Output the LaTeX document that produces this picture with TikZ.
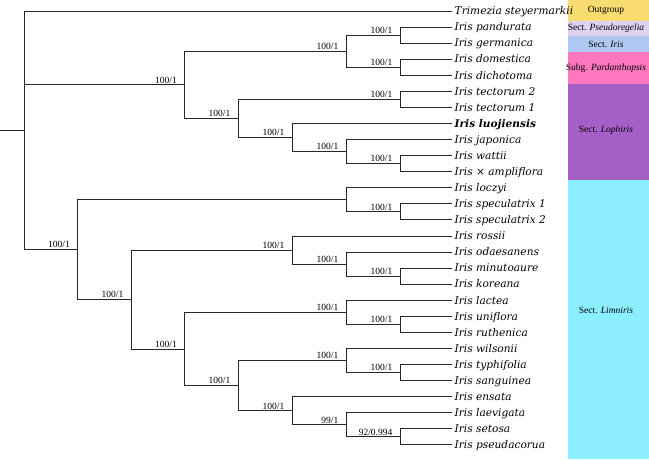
\documentclass[tikz,border=0pt]{standalone}
\usepackage{fontspec}
\setmainfont{Liberation Serif}
\newfontfamily\taxonfont{DejaVu Serif}
\usepackage{tikz}
\usetikzlibrary{positioning}
\definecolor{outgroupcol}{RGB}{248,220,112}
\definecolor{pseudocol}{RGB}{222,210,242}
\definecolor{iriscol}{RGB}{174,200,242}
\definecolor{pardcol}{RGB}{255,120,190}
\definecolor{lophcol}{RGB}{165,96,200}
\definecolor{limncol}{RGB}{140,239,255}
\tikzstyle{taxon}=[font=\taxonfont\itshape\fontsize{10.6}{12}\selectfont, anchor=west, inner xsep=2.5pt, inner ysep=0pt, text height=7.5pt, text depth=0pt]
\tikzstyle{branch}=[draw, line width=0.9pt, black!85]
\tikzstyle{support}=[font=\fontsize{9.5}{11}\selectfont, inner sep=1.5pt, text depth=0pt]
\tikzstyle{clade}=[font=\fontsize{9.5}{11}\selectfont, inner sep=0pt]

\begin{document}
\begin{tikzpicture}[x=1pt, y=-1pt]
    \useasboundingbox (0,0) rectangle (649,459);
    % Colour bar with the sections
    \foreach \top/\bot/\ly/\col/\text [count=\k] in {0/20.5/10/outgroupcol/Outgroup,
    20.5/36/28/pseudocol/{Sect. \textit{Pseudoregelia}}, 36/52/44/iriscol/{Sect. \textit{Iris}},
    52/84/68/pardcol/{Subg. \textit{Pardanthopsis}}, 84/180/130/lophcol/{Sect. \textit{Lophiris}},
    180/459/310/limncol/{Sect. \textit{Limniris}}}
    {
        \fill[\col] (568,\top) rectangle (649,\bot);
        \node[clade] (bar\k) at (606,\ly) {\text};
    }

    % First we draw the taxa
    \foreach \name/\label [count=\i from 0] in {Tri/Trimezia steyermarkii,
    Pan/Iris pandurata, Ger/Iris germanica, Dom/Iris domestica, Dic/Iris dichotoma,
    TecB/Iris tectorum 2, TecA/Iris tectorum 1, Luo/{\bfseries Iris luojiensis},
    Jap/Iris japonica, Wat/Iris wattii, Amp/Iris × ampliflora,
    Loc/Iris loczyi, SpeA/Iris speculatrix 1, SpeB/Iris speculatrix 2,
    Ros/Iris rossii, Oda/Iris odaesanens, Min/Iris minutoaure, Kor/Iris koreana,
    Lac/Iris lactea, Uni/Iris uniflora, Rut/Iris ruthenica,
    Wil/Iris wilsonii, Typ/Iris typhifolia, San/Iris sanguinea,
    Ens/Iris ensata, Lae/Iris laevigata, Set/Iris setosa, Pse/Iris pseudacorua}
        \node[taxon] (\name) at (452,{11+16.07*\i}) {\label};

    % Then the internal nodes
    \foreach \pos/\name in {{(24,130.3)/root}, {(0,130.3)/stem},
    {(184.5,84.85)/cIris}, {(346,51.2)/cPanDom}, {(400,35.1)/cPan}, {(400,67.25)/cDom},
    {(238,118.5)/cTecLuo}, {(400,99.4)/cTec}, {(292,137.55)/cLuo}, {(346,151.6)/cJap}, {(400,163.65)/cWat},
    {(77.5,249.65)/cLim}, {(346,199.8)/cLoc}, {(400,211.85)/cSpe},
    {(131,299.5)/cRosLac}, {(292,250.05)/cRos}, {(346,264.1)/cOda}, {(400,276.15)/cMin},
    {(184.5,348.95)/cLacWil}, {(346,312.3)/cLac}, {(400,324.35)/cUni},
    {(238,385.6)/cWilEns}, {(346,360.5)/cWil}, {(400,372.55)/cTyp},
    {(292,410.75)/cEns}, {(346,424.8)/cLae}, {(400,436.85)/cSet}}
        \node[coordinate] (\name) at \pos {};

    % Connect the nodes with elbow branches
    \path[branch] (stem) -- (root);
    \foreach \source/\dest in {root/Tri, root/cIris, root/cLim,
    cIris/cPanDom, cIris/cTecLuo, cPanDom/cPan, cPanDom/cDom,
    cPan/Pan, cPan/Ger, cDom/Dom, cDom/Dic,
    cTecLuo/cTec, cTecLuo/cLuo, cTec/TecB, cTec/TecA,
    cLuo/Luo, cLuo/cJap, cJap/Jap, cJap/cWat, cWat/Wat, cWat/Amp,
    cLim/cLoc, cLim/cRosLac, cLoc/Loc, cLoc/cSpe, cSpe/SpeA, cSpe/SpeB,
    cRosLac/cRos, cRosLac/cLacWil, cRos/Ros, cRos/cOda, cOda/Oda, cOda/cMin, cMin/Min, cMin/Kor,
    cLacWil/cLac, cLacWil/cWilEns, cLac/Lac, cLac/cUni, cUni/Uni, cUni/Rut,
    cWilEns/cWil, cWilEns/cEns, cWil/Wil, cWil/cTyp, cTyp/Typ, cTyp/San,
    cEns/Ens, cEns/cLae, cLae/Lae, cLae/cSet, cSet/Set, cSet/Pse}
        \path[branch] (\source) |- (\dest);

    % Support values (bootstrap / posterior)
    \foreach \dest/\value [count=\j] in {cIris/{100/1}, cPanDom/{100/1}, cPan/{100/1}, cDom/{100/1},
    cTecLuo/{100/1}, cTec/{100/1}, cLuo/{100/1}, cJap/{100/1}, cWat/{100/1},
    cLim/{100/1}, cSpe/{100/1}, cRosLac/{100/1}, cRos/{100/1}, cOda/{100/1}, cMin/{100/1},
    cLacWil/{100/1}, cLac/{100/1}, cUni/{100/1}, cWilEns/{100/1}, cWil/{100/1}, cTyp/{100/1},
    cEns/{100/1}, cLae/{99/1}, cSet/{92/0.994}}
        \node[support, above left=0pt and 6pt of \dest] (sup\j) {\value};
\end{tikzpicture}
\end{document}
